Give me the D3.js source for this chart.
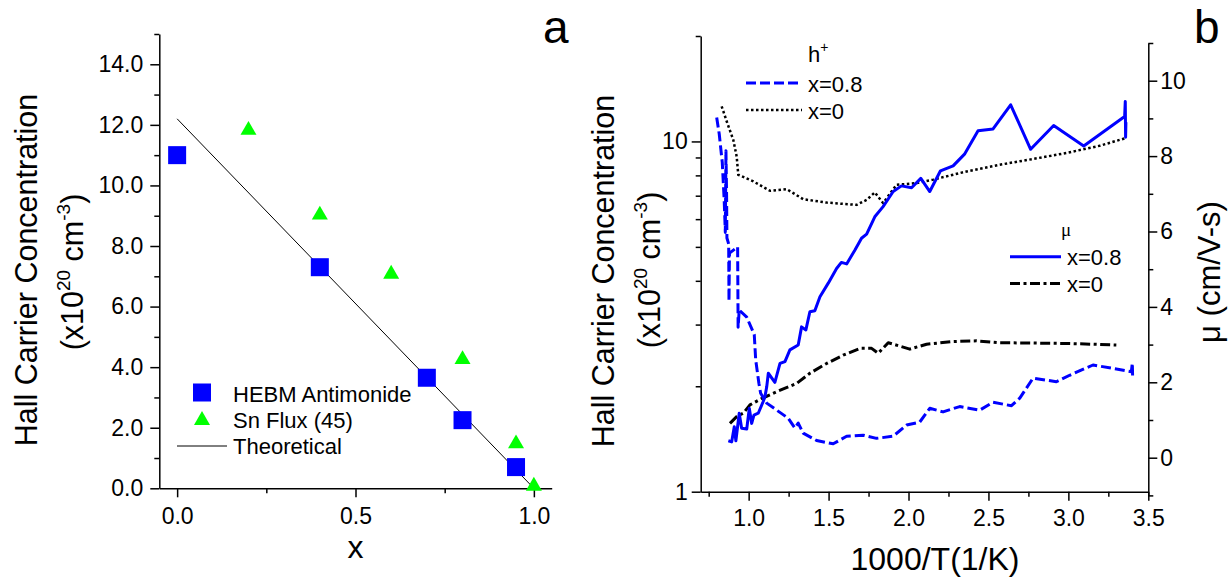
<!DOCTYPE html>
<html>
<head>
<meta charset="utf-8">
<script src="https://cdn.jsdelivr.net/npm/d3@7"></script>
<style>
  html, body { margin: 0; padding: 0; background: #fff; }
  svg { display: block; }
</style>
</head>
<body>
<svg id="fig" width="1231" height="580"></svg>
<script>
// ---------- Panel a: Hall carrier concentration vs composition x ----------
const hebmX = [0, 0.4, 0.7, 0.8, 0.95];
const hebmN = [11.0, 7.3, 3.65, 2.25, 0.7];
const fluxX = [0.2, 0.4, 0.6, 0.8, 0.95, 1.0];
const fluxN = [11.9, 9.1, 7.15, 4.33, 1.55, 0.15];
const theoX = [0, 1];
const theoN = [12.2, 0];
const aXTicks = [0, 0.5, 1.0];
const aXMinor = [0.25, 0.75];
const aYTicks = [0, 2, 4, 6, 8, 10, 12, 14];
const aYMinor = [1, 3, 5, 7, 9, 11, 13, 15];
const aLegend = ["HEBM Antimonide", "Sn Flux (45)", "Theoretical"];

// ---------- Panel b: h+ concentration and mobility vs 1000/T ----------
// h+ (left, log axis), x = 0.8
const hInvT08 = [0.800, 0.816, 0.835, 0.847, 0.854, 0.858, 0.862, 0.864, 0.875, 0.877, 0.880,
  0.931, 0.934, 0.941, 0.988, 1.035, 1.044, 1.064, 1.075, 1.113, 1.175, 1.248, 1.289, 1.310,
  1.341, 1.425, 1.529, 1.613, 1.716, 1.800, 1.904, 1.988, 2.070, 2.133, 2.216, 2.320, 2.446,
  2.529, 2.644, 2.696, 2.779, 2.925, 3.008, 3.154, 3.300, 3.394, 3.400, 3.402];
const hConc08 = [11.7, 10.5, 8.7, 6.8, 5.5, 9.4, 7.0, 5.3, 5.1, 3.5, 4.8,
  5.0, 2.95, 3.3, 3.15, 2.81, 2.38, 2.04, 1.91, 1.79, 1.71, 1.62, 1.52, 1.57,
  1.47, 1.40, 1.37, 1.44, 1.45, 1.42, 1.44, 1.55, 1.58, 1.73, 1.69, 1.75, 1.71,
  1.80, 1.76, 1.85, 2.11, 2.06, 2.15, 2.30, 2.24, 2.20, 2.33, 2.12];
// h+ (left, log axis), x = 0
const hInvT0 = [0.831, 0.863, 0.904, 0.925, 0.935, 1.029, 1.133, 1.238, 1.341, 1.488, 1.675,
  1.738, 1.789, 1.841, 1.925, 2.050, 2.154, 2.363, 2.570, 2.779, 2.988, 3.196, 3.352];
const hConc0 = [12.6, 11.4, 10.1, 9.06, 8.03, 7.69, 7.23, 7.31, 6.84, 6.69, 6.59,
  6.81, 7.15, 6.67, 7.52, 7.60, 7.78, 8.21, 8.58, 8.91, 9.27, 9.72, 10.2];
// mobility (right axis), x = 0.8
const muInvT08 = [0.873, 0.894, 0.910, 0.920, 0.941, 0.956, 0.988, 1.004, 1.019, 1.033, 1.060,
  1.091, 1.102, 1.113, 1.123, 1.164, 1.196, 1.227, 1.258, 1.310, 1.331, 1.358, 1.383, 1.414,
  1.446, 1.498, 1.550, 1.580, 1.613, 1.665, 1.706, 1.738, 1.789, 1.841, 1.904, 1.956, 2.019,
  2.077, 2.133, 2.200, 2.279, 2.352, 2.435, 2.529, 2.639, 2.764, 2.908, 3.096, 3.352, 3.356,
  3.358, 3.360];
const mu08 = [0.45, 0.42, 0.82, 0.45, 1.18, 0.78, 0.76, 1.31, 0.91, 1.13, 1.18,
  1.49, 1.62, 1.88, 2.24, 2.00, 2.50, 2.55, 2.86, 2.99, 3.47, 3.39, 3.87, 3.90,
  4.27, 4.63, 5.02, 5.18, 5.14, 5.51, 5.82, 5.93, 6.39, 6.66, 7.06, 7.21, 7.16,
  7.41, 7.06, 7.61, 7.74, 8.06, 8.67, 8.72, 9.36, 8.18, 8.81, 8.27, 9.05, 9.45,
  8.50, 8.90];
// mobility (right axis), x = 0
const muInvT0 = [0.883, 0.925, 0.966, 1.008, 1.081, 1.175, 1.300, 1.383, 1.488, 1.591, 1.696,
  1.769, 1.810, 1.873, 2.008, 2.113, 2.279, 2.425, 2.570, 3.000, 3.300];
const mu0 = [0.91, 1.09, 1.18, 1.40, 1.57, 1.75, 1.97, 2.24, 2.50, 2.72, 2.90,
  2.90, 2.77, 3.05, 2.88, 3.01, 3.08, 3.10, 3.05, 3.03, 2.99];
const bXTicks = [1.0, 1.5, 2.0, 2.5, 3.0, 3.5];
const bXMinor = [0.75, 1.25, 1.75, 2.25, 2.75, 3.25];
const bLTicks = [1, 10];
const bLMinor = [2, 3, 4, 5, 6, 7, 8, 9, 20];
const bRTicks = [0, 2, 4, 6, 8, 10];
const bRMinor = [-1, 1, 3, 5, 7, 9, 11];
const bLegendLabels = ["x=0.8", "x=0"];

// ---------- helpers ----------
const FONT = '"Liberation Sans", Arial, Helvetica, sans-serif';
const svg = d3.select("#fig");
const BLUE = "#0000ff", GREEN = "#00ff00";

function axis(parent, make, transform, major, minor, fmt, fs, pad) {
  parent.append("g").attr("transform", transform)
    .call(make().tickValues(minor).tickFormat("").tickSize(5).tickSizeOuter(0))
    .call(g => g.select(".domain").remove());
  const g = parent.append("g").attr("transform", transform)
    .call(make().tickValues(major).tickFormat(fmt).tickSize(9).tickSizeOuter(0).tickPadding(pad));
  parent.selectAll("g").attr("font-family", FONT);
  g.attr("font-size", fs);
  parent.selectAll(".domain, .tick line").attr("stroke", "#000").attr("stroke-width", 1.5);
  g.selectAll("text").attr("fill", "#000");
  return g;
}

function supTitle(parent, x, y, size, supSize, parts) {
  // parts: [[text, isSuperscript], ...]
  const t = parent.append("text")
    .attr("transform", `translate(${x},${y}) rotate(-90)`)
    .attr("text-anchor", "middle")
    .attr("font-family", FONT).attr("font-size", size).attr("fill", "#000");
  const rise = size * 0.42;
  let raised = false;
  parts.forEach(([s, sup]) => {
    const ts = t.append("tspan").text(s);
    if (sup && !raised) { ts.attr("font-size", supSize).attr("dy", -rise); raised = true; }
    else if (!sup && raised) { ts.attr("dy", rise); raised = false; }
  });
  return t;
}

function triPath(cx, cy, w) {
  const h = w * Math.sqrt(3) / 2;
  return `M${cx},${cy - h / 2}L${cx + w / 2},${cy + h / 2}L${cx - w / 2},${cy + h / 2}Z`;
}

// ================= Panel a =================
const xA = d3.scaleLinear().domain([-0.05, 1.05]).range([159.3, 551.7]);
const yA = d3.scaleLinear().domain([0, 15]).range([488.3, 34]);
const pa = svg.append("g");

axis(pa, () => d3.axisBottom(xA), `translate(0,${yA(0)})`, aXTicks, aXMinor, d3.format(".1f"), 23, 10);
axis(pa, () => d3.axisLeft(yA), `translate(${xA(-0.05)},0)`, aYTicks, aYMinor, d3.format(".1f"), 23, 7);

// theoretical line
pa.append("path")
  .attr("d", d3.line().x(d => xA(d[0])).y(d => yA(d[1]))(d3.zip(theoX, theoN)))
  .attr("fill", "none").attr("stroke", "#000").attr("stroke-width", 1);

// Sn flux triangles
pa.selectAll("path.flux").data(d3.zip(fluxX, fluxN)).join("path").attr("class", "flux")
  .attr("d", d => triPath(xA(d[0]), yA(d[1]), 16)).attr("fill", GREEN);

// HEBM squares
pa.selectAll("rect.hebm").data(d3.zip(hebmX, hebmN)).join("rect").attr("class", "hebm")
  .attr("x", d => xA(d[0]) - 9).attr("y", d => yA(d[1]) - 9)
  .attr("width", 18).attr("height", 18).attr("fill", BLUE);

// legend
const la = pa.append("g").attr("font-family", FONT).attr("font-size", 22);
la.append("rect").attr("x", 193).attr("y", 383.5).attr("width", 18).attr("height", 18).attr("fill", BLUE);
la.append("path").attr("d", triPath(202, 418, 16)).attr("fill", GREEN);
la.append("line").attr("x1", 177).attr("x2", 227).attr("y1", 446).attr("y2", 446)
  .attr("stroke", "#000").attr("stroke-width", 1);
aLegend.forEach((s, i) => la.append("text").attr("x", 233).attr("y", 402 + i * 26).attr("fill", "#000").text(s));

// axis titles
pa.append("text").attr("x", (xA(-0.05) + xA(1.05)) / 2).attr("y", 558)
  .attr("text-anchor", "middle").attr("font-family", FONT).attr("font-size", 32).text("x");
supTitle(pa, 37, 270, 30.5, 30.5, [["Hall Carrier Concentration", false]]);
supTitle(pa, 83, 272, 30.5, 19, [["(x10", false], ["20", true], [" cm", false], ["-3", true], [")", false]]);

pa.append("text").attr("x", 543).attr("y", 43).attr("font-family", FONT).attr("font-size", 46).text("a");

// ================= Panel b =================
const xB = d3.scaleLinear().domain([0.7, 3.5]).range([700.7, 1148.3]);
const yL = d3.scaleLog().domain([1, 20]).range([491.7, 36]);
const yR = d3.scaleLinear().domain([-1, 11]).range([495.4, 43]);
const pb = svg.append("g");

axis(pb, () => d3.axisBottom(xB), `translate(0,${yL(1)})`, bXTicks, bXMinor, d3.format(".1f"), 23, 9);
axis(pb, () => d3.axisLeft(yL), `translate(${xB(0.7)},0)`, bLTicks, bLMinor, d3.format("d"), 23, 4);
axis(pb, () => d3.axisRight(yR), `translate(${xB(3.5)},0)`, bRTicks, bRMinor, d3.format("d"), 23, 3);

const lineL = d3.line().x(d => xB(d[0])).y(d => yL(d[1]));
const lineR = d3.line().x(d => xB(d[0])).y(d => yR(d[1]));

const styles = {
  h08: { stroke: BLUE, width: 3, dash: "10,4" },
  h0: { stroke: "#000", width: 2.5, dash: "2.5,2.5" },
  mu08: { stroke: BLUE, width: 3, dash: null },
  mu0: { stroke: "#000", width: 3, dash: "10,3.5,3,3.5" }
};
function styled(sel, st) {
  return sel.attr("fill", "none").attr("stroke", st.stroke).attr("stroke-width", st.width)
    .attr("stroke-dasharray", st.dash).attr("stroke-linejoin", "round");
}

styled(pb.append("path").attr("d", lineL(d3.zip(hInvT0, hConc0))), styles.h0);
styled(pb.append("path").attr("d", lineR(d3.zip(muInvT0, mu0))), styles.mu0);
styled(pb.append("path").attr("d", lineL(d3.zip(hInvT08, hConc08))), styles.h08);
styled(pb.append("path").attr("d", lineR(d3.zip(muInvT08, mu08))), styles.mu08);

// legends
const lb = pb.append("g").attr("font-family", FONT).attr("font-size", 22).attr("fill", "#000");
const hHead = lb.append("text").attr("x", 808).attr("y", 61.7);
hHead.append("tspan").text("h");
hHead.append("tspan").attr("font-size", 14).attr("dy", -10).text("+");
[["h08", 83], ["h0", 110]].forEach(([k, y], i) => {
  styled(lb.append("line").attr("x1", 746).attr("x2", 802).attr("y1", y).attr("y2", y), styles[k]);
  lb.append("text").attr("x", 808).attr("y", y + 8.5).text(bLegendLabels[i]);
});
lb.append("text").attr("x", 1061).attr("y", 236).attr("font-family", '"Liberation Serif", serif')
  .attr("font-size", 19).text("μ");
[["mu08", 256.7], ["mu0", 283.5]].forEach(([k, y], i) => {
  styled(lb.append("line").attr("x1", 1010).attr("x2", 1061).attr("y1", y).attr("y2", y), styles[k]);
  lb.append("text").attr("x", 1067).attr("y", y + 8).text(bLegendLabels[i]);
});

// axis titles
pb.append("text").attr("x", 935).attr("y", 570).attr("text-anchor", "middle")
  .attr("font-family", FONT).attr("font-size", 32).text("1000/T(1/K)");
supTitle(pb, 614, 271, 30.5, 30.5, [["Hall Carrier Concentration", false]]);
supTitle(pb, 660, 270, 30.5, 19, [["(x10", false], ["20", true], [" cm", false], ["-3", true], [")", false]]);
supTitle(pb, 1220, 272, 31, 31, [["μ (cm/V-s)", false]]);

pb.append("text").attr("x", 1194).attr("y", 43).attr("font-family", FONT).attr("font-size", 46).text("b");
</script>
</body>
</html>
